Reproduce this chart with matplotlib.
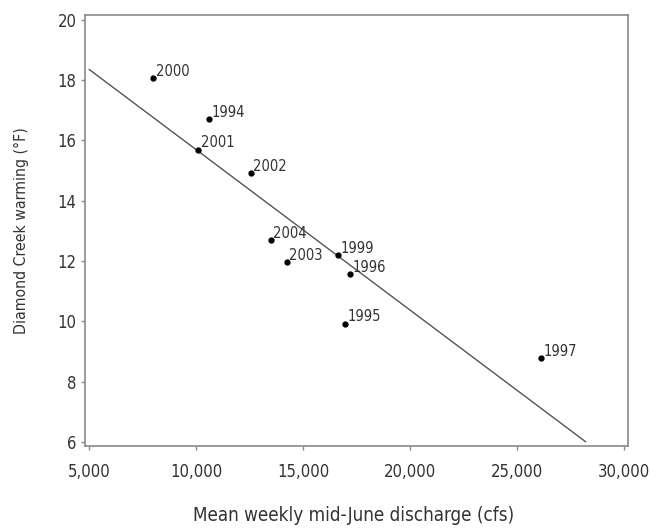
import numpy as np
import matplotlib
matplotlib.use("Agg")
import matplotlib.pyplot as plt
from matplotlib.ticker import StrMethodFormatter

# Dane
lata = ["1994", "1995", "1996", "1997", "1999", "2000", "2001", "2002", "2003", "2004"]
przeplyw = [10610, 16950, 17190, 26120, 16610, 7990, 10080, 12545, 14230, 13480]
ocieplenie = [16.7, 9.93, 11.58, 8.78, 12.2, 18.07, 15.7, 14.93, 11.98, 12.7]

zakres_linii = [5000, 28200]
x_ticki = [5000, 10000, 15000, 20000, 25000, 30000]
y_ticki = [6, 8, 10, 12, 14, 16, 18, 20]

plt.rcParams['font.family'] = ['DejaVu Sans']
plt.rcParams['font.stretch'] = 'condensed'

tekst = '#333333'
szary = '#8a8a8a'

fig = plt.figure(figsize=(6.61, 5.29), dpi=100)
ax = fig.add_axes([0.1286, 0.1569, 0.8210, 0.8153])

# linia regresji
a, b = np.polyfit(przeplyw, ocieplenie, 1)
xl = np.array(zakres_linii)
ax.plot(xl, a * xl + b, color='#555555', linewidth=1.0)

ax.plot(przeplyw, ocieplenie, 'o', color='black', markersize=3.5)
for rok, x, y in zip(lata, przeplyw, ocieplenie):
    ax.annotate(rok, (x, y), xytext=(2, 1.5), textcoords='offset points',
                ha='left', va='baseline', fontsize=10.5, color=tekst)

ax.set_xlim(4800, 30170)
ax.set_ylim(5.87, 20.17)
ax.set_xticks(x_ticki)
ax.set_yticks(y_ticki)
ax.xaxis.set_major_formatter(StrMethodFormatter('{x:,.0f}'))

for s in ax.spines.values():
    s.set_color(szary)
    s.set_linewidth(1.2)

ax.tick_params(axis='both', direction='out', length=3, width=1, color=szary,
               labelsize=12, labelcolor=tekst)
ax.tick_params(axis='x', pad=9)
ax.tick_params(axis='y', pad=3)

ax.set_xlabel("Mean weekly mid-June discharge (cfs)", fontsize=13.5, color=tekst, labelpad=18)
ax.xaxis.label.set_x(0.495)
ax.set_ylabel("Diamond Creek warming (°F)", fontsize=11.3, color=tekst, labelpad=21)

fig.savefig("out.png", dpi=100)
